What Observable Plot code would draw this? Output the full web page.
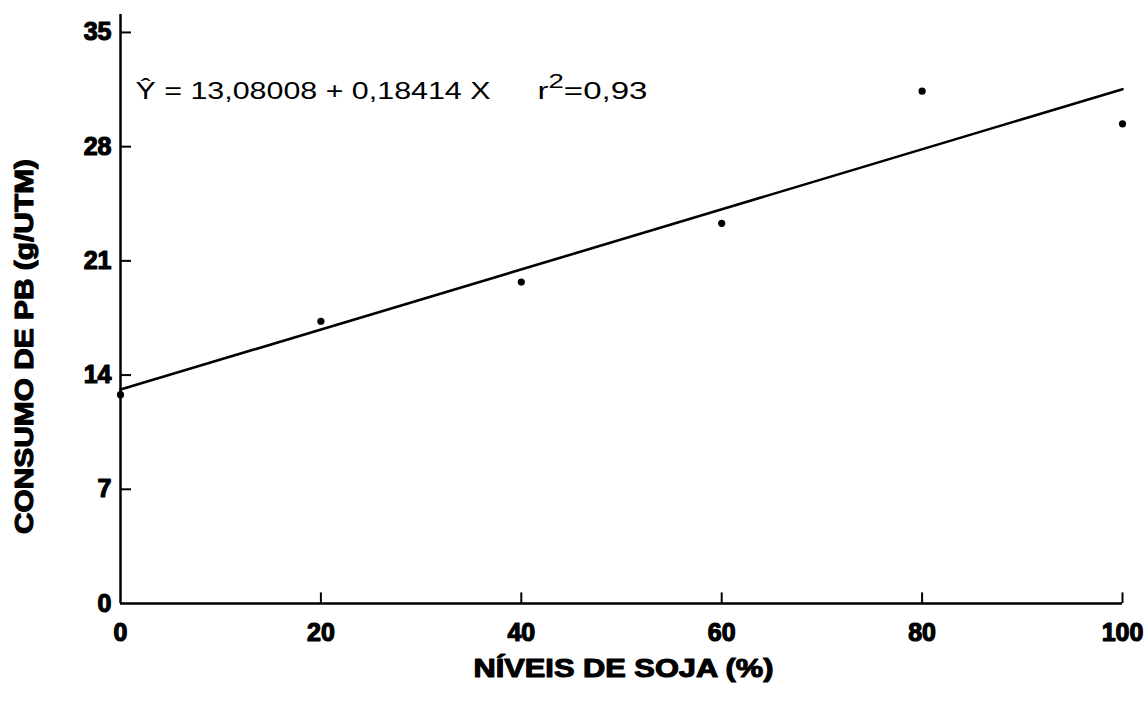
<!DOCTYPE html>
<html>
<head>
<meta charset="utf-8">
<script src="https://cdn.jsdelivr.net/npm/d3@7"></script>
<script src="https://cdn.jsdelivr.net/npm/@observablehq/plot@0.6"></script>
<style>
html, body { margin: 0; padding: 0; background: #fff; }
#chart svg { display: block; }
</style>
</head>
<body>
<div id="chart"></div>
<script>
// Data
const sojaLevels = [0, 20, 40, 60, 80, 100];          // NÍVEIS DE SOJA (%)
const consumoPB  = [12.8, 17.3, 19.7, 23.3, 31.4, 29.4]; // CONSUMO DE PB (g/UTM)
const xTicks = [0, 20, 40, 60, 80, 100];
const yTicks = [0, 7, 14, 21, 28, 35];
const xTitle = "NÍVEIS DE SOJA (%)";
const yTitle = "CONSUMO DE PB (g/UTM)";
const equationText = "Ŷ = 13,08008 + 0,18414 X";
const r2Parts = ["r", "2", "=0,93"];

const points = sojaLevels.map((x, i) => ({x, y: consumoPB[i]}));
const font = "Liberation Sans, Arial, Helvetica, sans-serif";

const plot = Plot.plot({
  width: 1148,
  height: 701,
  marginTop: 14,
  marginRight: 26,
  marginBottom: 98,
  marginLeft: 120,
  style: {background: "#fff", color: "#000", fontFamily: font},
  x: {domain: [0, 100]},
  y: {domain: [0, 36.1]},
  marks: [
    Plot.axisY(yTicks, {tickSize: 0, tickPadding: 9, fontSize: 25, fontWeight: "bold", label: null}),
    Plot.axisX(xTicks, {tickSize: 0, tickPadding: 20, fontSize: 25, fontWeight: "bold", label: null}),
    Plot.ruleY([0], {x1: 0, x2: 100, stroke: "#000", strokeWidth: 2.5}),
    Plot.ruleX([0], {y1: 0, y2: 36.1, stroke: "#000", strokeWidth: 2.5}),
    Plot.ruleY(yTicks.filter(d => d > 0), {x1: 0, x2: 1.1, stroke: "#000", strokeWidth: 2}),
    Plot.ruleX(xTicks.filter(d => d > 0), {y1: 0, y2: 0.65, stroke: "#000", strokeWidth: 2}),
    Plot.linearRegressionY(points, {x: "x", y: "y", ci: 0, stroke: "#000", strokeWidth: 2.6}),
    Plot.dot(points, {x: "x", y: "y", r: 3.6, fill: "#000"}),
    Plot.text([yTitle], {text: d => d, frameAnchor: "left", rotate: -90, dx: -96, dy: 225,
      textAnchor: "start", fontSize: 25, fontWeight: "bold", lineAnchor: "middle"}),
    Plot.text([xTitle], {text: d => d, frameAnchor: "bottom", dx: 2, dy: 65,
      fontSize: 26, fontWeight: "bold", lineAnchor: "middle"}),
    Plot.text([equationText], {text: d => d, frameAnchor: "top-left", dx: 15, dy: 77,
      textAnchor: "start", lineAnchor: "middle", fontSize: 24}),
    Plot.text([r2Parts.join("")], {text: d => d, frameAnchor: "top-left", dx: 417, dy: 77,
      textAnchor: "start", lineAnchor: "middle", fontSize: 24})
  ]
});

document.getElementById("chart").appendChild(plot);

// Text styling to mimic the wide, heavy lettering of the original
const texts = Array.from(plot.querySelectorAll("text"));
const byContent = s => texts.find(t => t.textContent === s);
function stretch(t, len) {
  if (!t) return;
  t.setAttribute("textLength", len);
  t.setAttribute("lengthAdjust", "spacingAndGlyphs");
}
function heavy(t, w) {
  if (!t) return;
  t.style.stroke = "#000";
  t.style.strokeWidth = w + "px";
  t.style.strokeLinejoin = "round";
}
const tickStrings = new Set([...xTicks, ...yTicks].map(String));
texts.filter(t => tickStrings.has(t.textContent)).forEach(t => heavy(t, 1.2));
const xt = byContent(xTitle), yt = byContent(yTitle);
heavy(xt, 1.1); heavy(yt, 1.1);
stretch(xt, 300);
stretch(yt, 375);
stretch(byContent(equationText), 355);
const r2 = byContent(r2Parts.join(""));
if (r2) {
  const sel = d3.select(r2).text(null);
  sel.append("tspan").text(r2Parts[0]);
  sel.append("tspan").attr("dy", -11).attr("font-size", 20).text(r2Parts[1]);
  sel.append("tspan").attr("dy", 11).text(r2Parts[2]);
  r2.setAttribute("textLength", 110);
  r2.setAttribute("lengthAdjust", "spacingAndGlyphs");
}
</script>
</body>
</html>
